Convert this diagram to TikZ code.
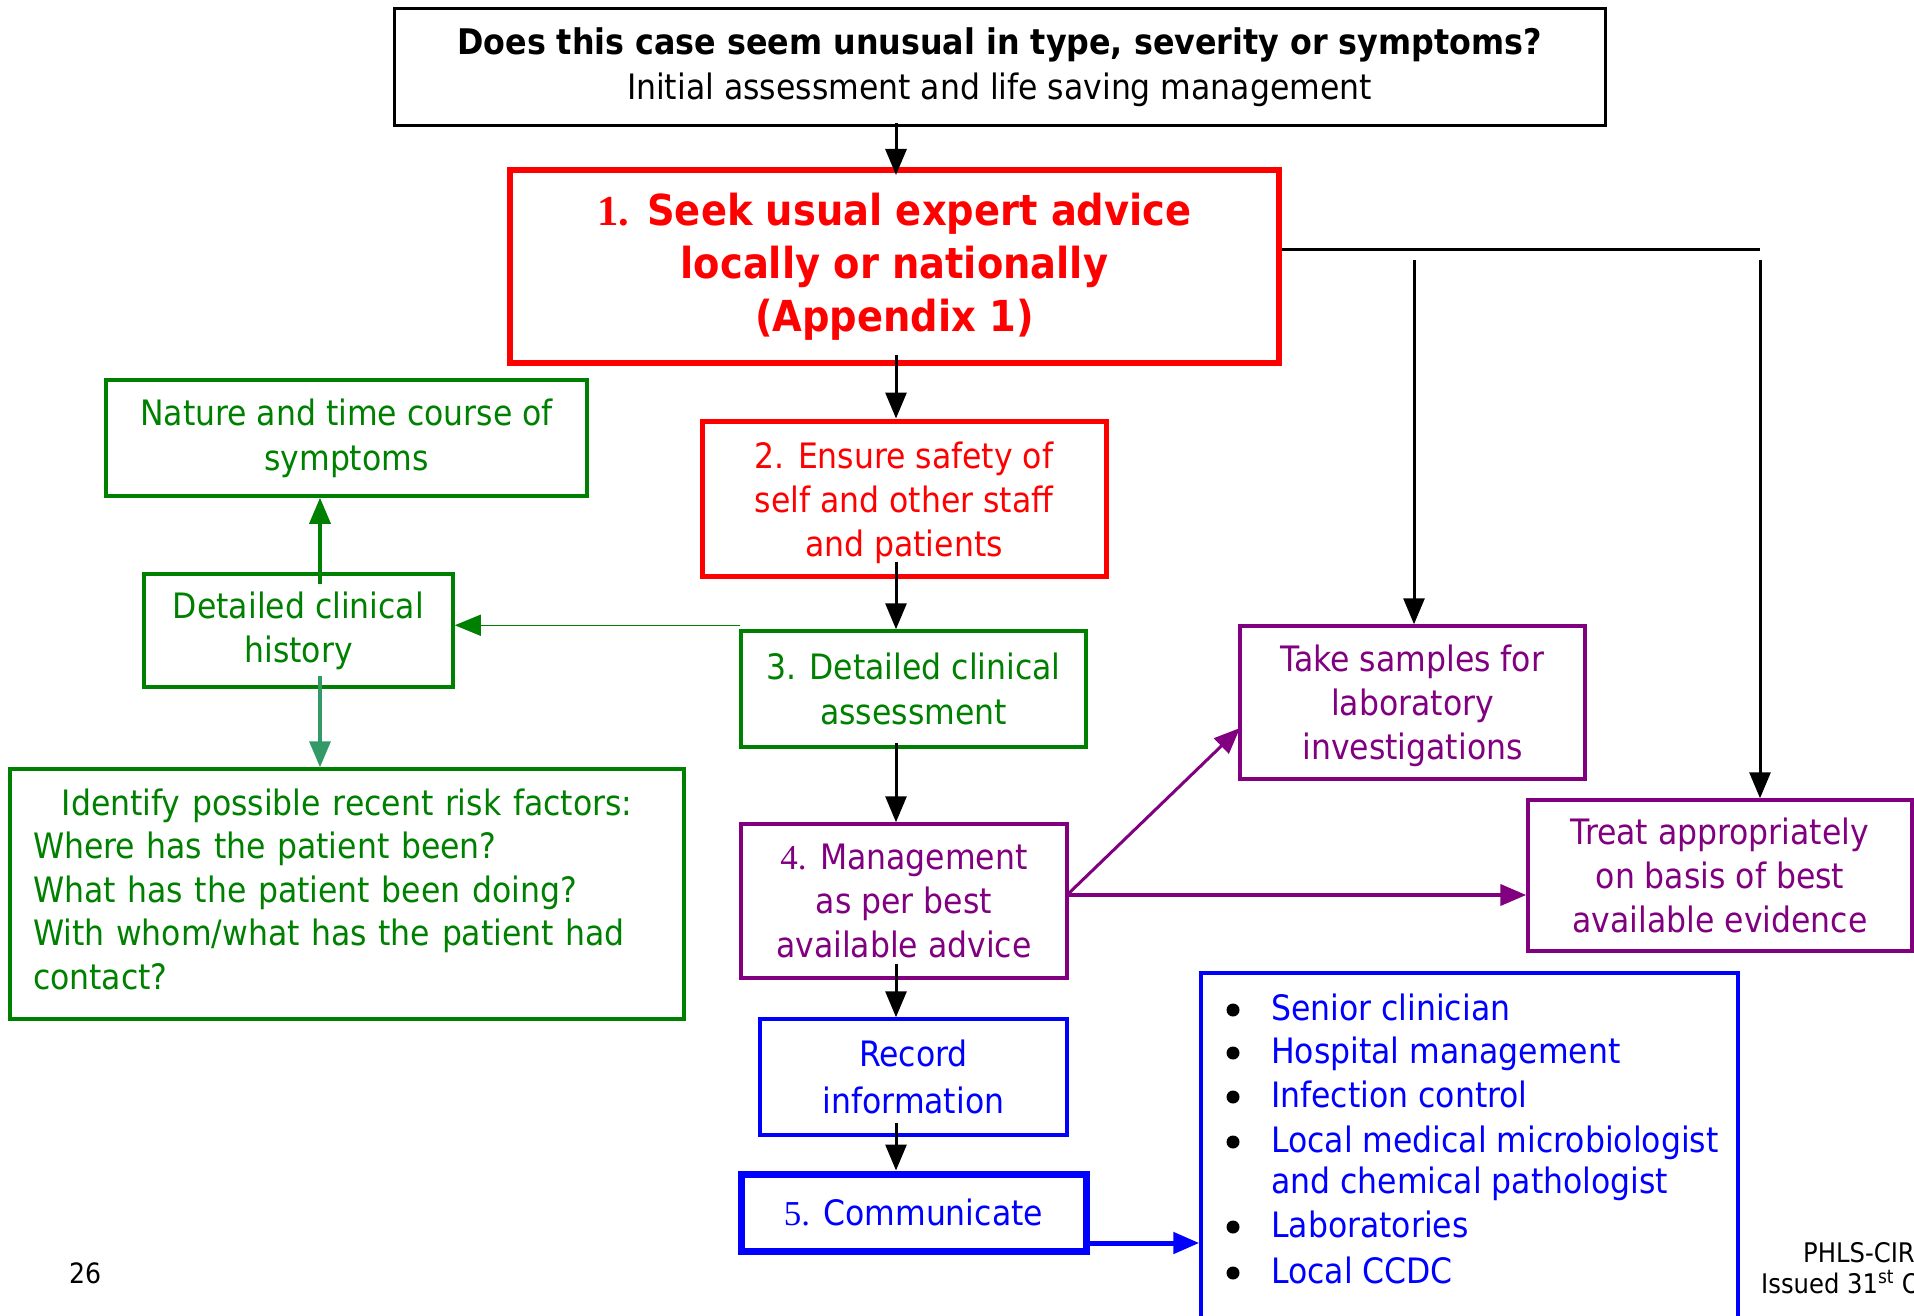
\documentclass[tikz,border=0pt]{standalone}
\usepackage{fontspec}
\setmainfont{DejaVu Sans Condensed}
\newfontfamily\serifnum{Liberation Serif}
\usetikzlibrary{arrows.meta,calc}
\definecolor{cred}{RGB}{255,0,0}
\definecolor{cgreen}{RGB}{0,128,0}
\definecolor{cpurple}{RGB}{128,0,128}
\definecolor{cblue}{RGB}{0,0,255}
\definecolor{cteal}{RGB}{51,153,102}
\begin{document}
\begin{tikzpicture}[x=1pt,y=-1pt,
  box/.style={draw, rectangle, inner sep=0pt, align=center, font=\fontsize{35}{44}\selectfont},
  tip/.style={-{Triangle[length=26pt,width=21pt]}},
  blk/.style={tip, draw=black, line width=3pt},
  itm/.style={anchor=base west, inner sep=0pt, text=cblue, font=\fontsize{35}{44}\selectfont},
  dot/.style={circle, fill=black, inner sep=0pt, minimum size=13pt},
  foot/.style={inner sep=0pt, font=\fontsize{28}{31}\selectfont}
]
\useasboundingbox (0,0) rectangle (1914,1316);

% boxes
\node[box, line width=3pt, minimum width=1211, minimum height=117, font=\fontsize{35}{45}\selectfont] (top) at (999.5,67.5)
  {{\bfseries\fontsize{35.3}{45}\selectfont Does this case seem unusual in type, severity or symptoms?}\\Initial assessment and life saving management};
\node[box, draw=cred, text=cred, line width=6pt, minimum width=769, minimum height=193, font=\bfseries\fontsize{42.7}{53}\selectfont] (b1) at (894.5,266.5)
  {{\serifnum 1.} Seek usual expert advice\\locally or nationally\\(Appendix 1)};
\node[box, draw=cred, text=cred, line width=5pt, minimum width=404, minimum height=155] (b2) at (904,498.5)
  {\rule{0pt}{36pt}2. Ensure safety of\\self and other staff\\and patients};
\node[box, draw=cgreen, text=cgreen, line width=3.5pt, minimum width=345, minimum height=116, font=\fontsize{35}{45}\selectfont] (b3) at (913.5,689)
  {3. Detailed clinical\\assessment};
\node[box, draw=cgreen, text=cgreen, line width=3.5pt, minimum width=309, minimum height=113] (hist) at (298.5,630.5)
  {Detailed clinical\\history};
\node[box, draw=cgreen, text=cgreen, line width=3.5pt, minimum width=481, minimum height=116, font=\fontsize{35}{45}\selectfont] (nature) at (346.5,438)
  {Nature and time course of\\symptoms};
\node[box, draw=cgreen, text=cgreen, line width=3.5pt, minimum width=674, minimum height=250, align=left, text width=628, font=\fontsize{35}{43.5}\selectfont] (risk) at (347,894)
  {{\centering Identify possible recent risk factors:\par}Where has the patient been?\\What has the patient been doing?\\With whom/what has the patient had\\contact?\rule[-10pt]{0pt}{0pt}};
\node[box, draw=cpurple, text=cpurple, line width=3.5pt, minimum width=326, minimum height=154] (b4) at (904,901)
  {{\serifnum 4.} Management\\as per best\\available advice};
\node[box, draw=cpurple, text=cpurple, line width=3.5pt, minimum width=345, minimum height=153] (samples) at (1412.5,702.5)
  {\rule{0pt}{34pt}Take samples for\\laboratory\\investigations};
\node[box, draw=cpurple, text=cpurple, line width=3.5pt, minimum width=384, minimum height=151] (treat) at (1720,875.5)
  {Treat appropriately\\on basis of best\\available evidence};
\node[box, draw=cblue, text=cblue, line width=3.5pt, minimum width=307, minimum height=116, font=\fontsize{35}{47}\selectfont] (record) at (913.5,1077)
  {Record\\information};
\node[box, draw=cblue, text=cblue, line width=7pt, minimum width=345, minimum height=77] (comm) at (913.5,1212.5)
  {{\serifnum 5.} Communicate};
\node[draw=cblue, line width=3.5pt, rectangle, inner sep=0pt, minimum width=537, minimum height=367] (list) at (1469.5,1156.5) {};

% list items
\node[dot] (d1) at (1233,1010) {};
\node[itm] (i1) at (1271,1020) {Senior clinician};
\node[dot] (d2) at (1233,1053) {};
\node[itm] (i2) at (1271,1063) {Hospital management};
\node[dot] (d3) at (1233,1097) {};
\node[itm] (i3) at (1271,1107) {Infection control};
\node[dot] (d4) at (1233,1142) {};
\node[itm] (i4) at (1271,1152) {Local medical microbiologist};
\node[itm] (i4b) at (1271,1193) {and chemical pathologist};
\node[dot] (d5) at (1233,1227) {};
\node[itm] (i5) at (1271,1237) {Laboratories};
\node[dot] (d6) at (1233,1273) {};
\node[itm] (i6) at (1271,1283) {Local CCDC};

% footer
\node[foot, anchor=base west] (pg) at (69,1283) {26};
\node[foot, anchor=base west, font=\fontsize{27}{31}\selectfont] (ph) at (1803,1262) {PHLS-CIR};
\node[foot, anchor=base west, font=\fontsize{27}{31}\selectfont] (is) at (1761,1293) {Issued 31\textsuperscript{st} O};

% helper coordinates
\coordinate (sp) at (896,0);
\coordinate (hx) at (320,0);
\coordinate (h1) at (1279,249);
\coordinate (h2) at (1760,249);
\coordinate (v1) at (1414,260);
\coordinate (v2) at (1760,260);
\coordinate (m4) at (1067,895);
\coordinate (sm) at (1240,728);
\coordinate (g3) at ($(b3.north west)+(1,-4)$);
\coordinate (c5) at (1086,1243);

% black spine arrows
\draw[blk] ($(top.south -| sp)+(0,-4)$) -- ($(b1.north -| sp)+(0,8)$);
\draw[blk] ($(b1.south -| sp)+(0,-11)$) -- (b2.north -| sp);
\draw[blk] ($(b2.south -| sp)+(0,-17)$) -- (b3.north -| sp);
\draw[blk] ($(b3.south -| sp)+(0,-6)$) -- (b4.north -| sp);
\draw[blk] ($(b4.south -| sp)+(0,-16)$) -- (record.north -| sp);
\draw[blk] ($(record.south -| sp)+(0,-14)$) -- (comm.north -| sp);

% right branches
\draw[black, line width=3pt] (b1.east |- h1) -- (h2);
\draw[blk] (v1) -- (samples.north -| v1);
\draw[blk] (v2) -- (treat.north -| v2);

% green side
\draw[tip, draw=cgreen, fill=cgreen, line width=1.5pt] (g3) -- (hist.east |- g3);
\draw[tip, draw=cgreen, line width=3.5pt] ($(hist.north -| hx)+(0,12)$) -- (nature.south -| hx);
\draw[tip, draw=cteal, line width=3.5pt] ($(hist.south -| hx)+(0,-13)$) -- (risk.north -| hx);

% purple
\draw[tip, draw=cpurple, line width=3pt] (m4) -- (sm);
\draw[tip, draw=cpurple, line width=4pt] (m4) -- (treat.west |- m4);

% blue
\draw[tip, draw=cblue, line width=5pt] (c5) -- (list.west |- c5);
\end{tikzpicture}
\end{document}
